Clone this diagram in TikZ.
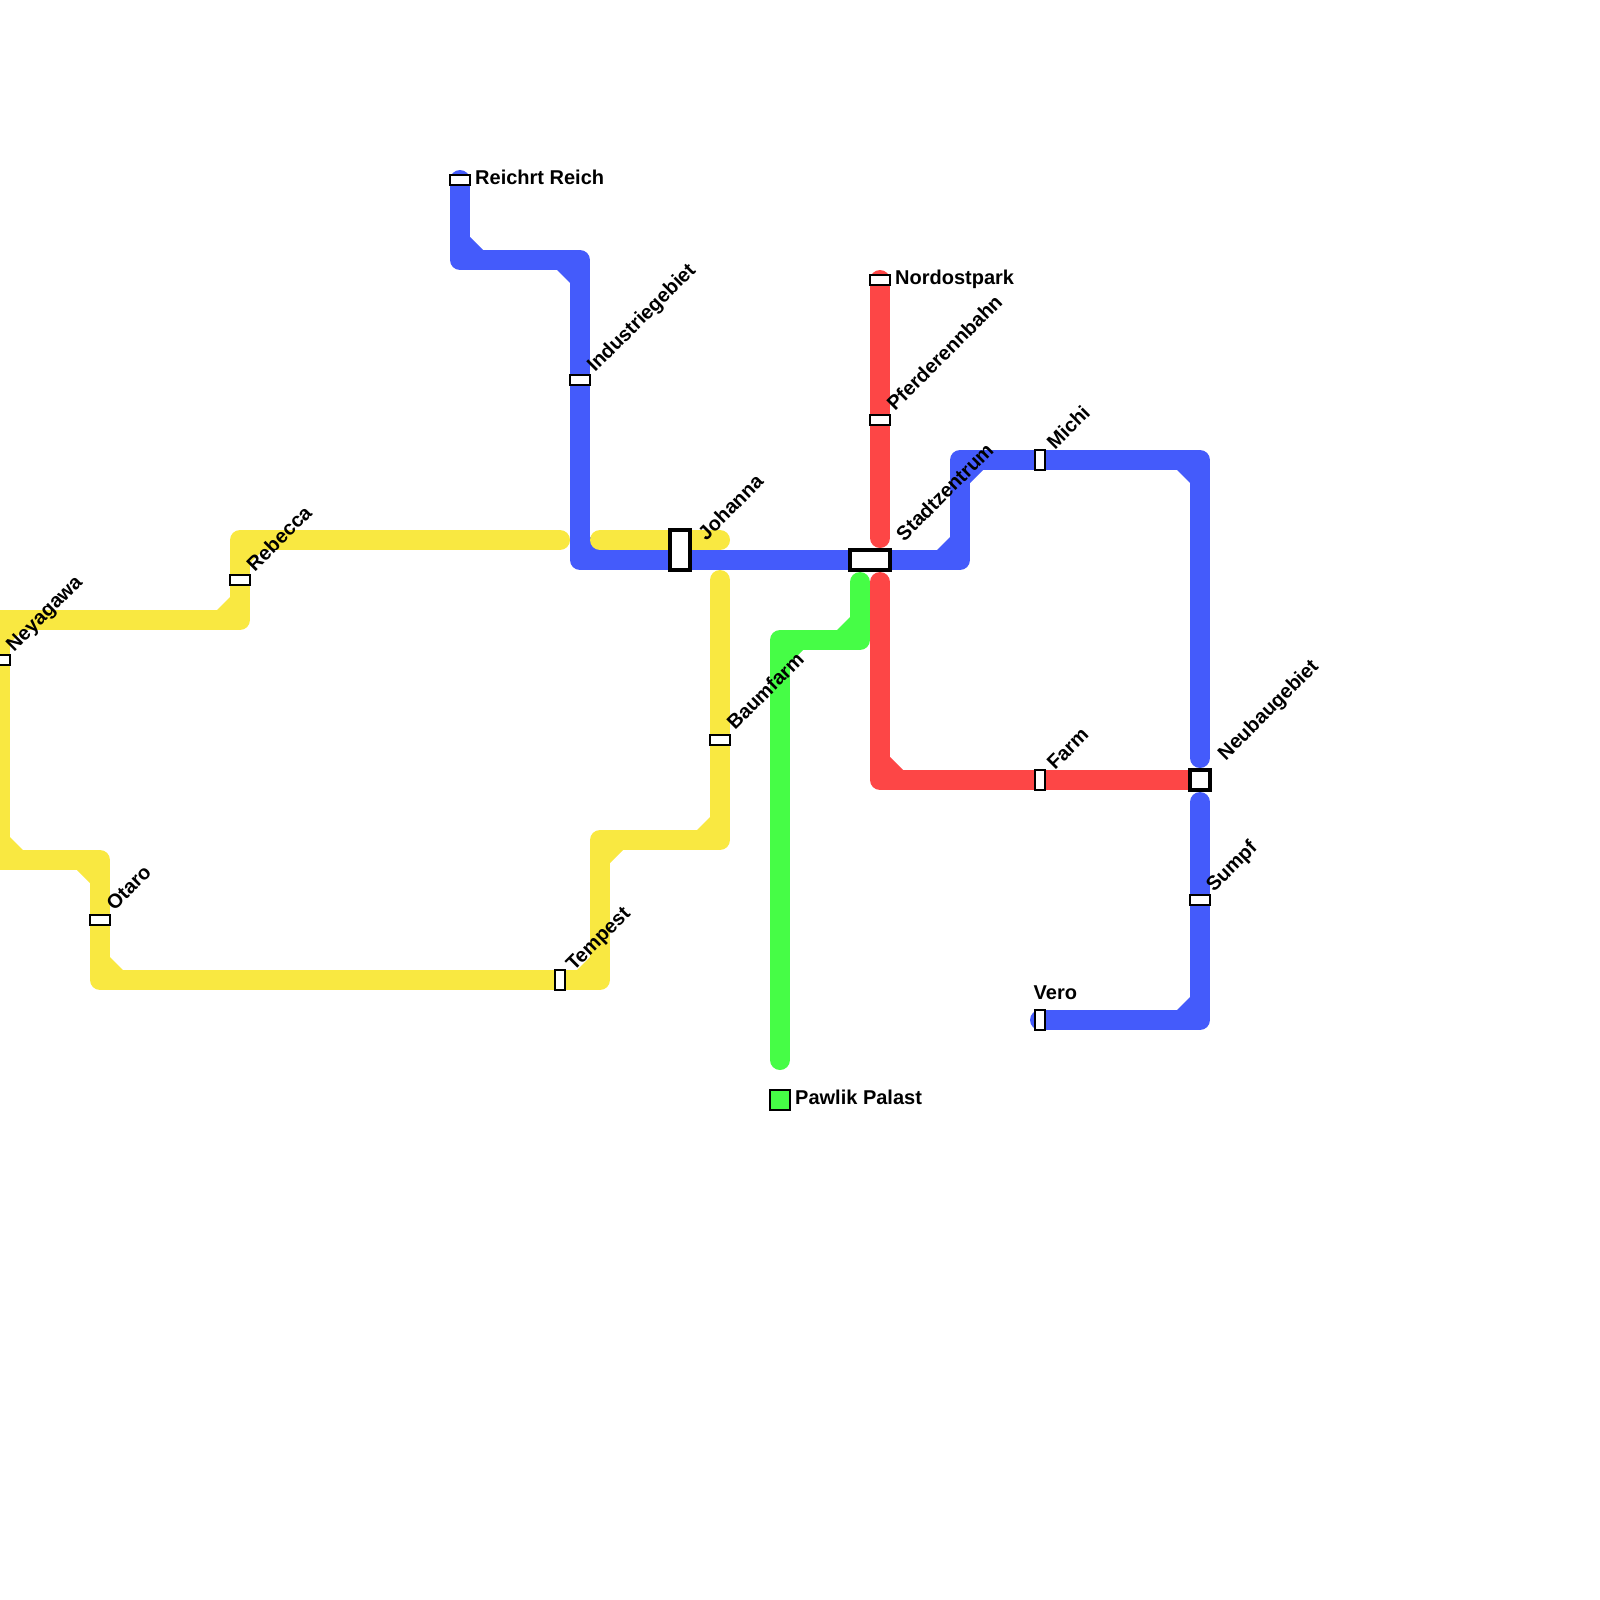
\documentclass[tikz,border=0pt]{standalone}
\usepackage{fontspec}
\setmainfont{Liberation Sans}
\usetikzlibrary{backgrounds}
\definecolor{lineblue}{HTML}{445BFB}
\definecolor{linered}{HTML}{FD4646}
\definecolor{linegreen}{HTML}{46FD46}
\definecolor{lineyellow}{HTML}{F9E841}
\begin{document}
\begin{tikzpicture}[x=1pt, y=-1pt,
    stop/.style={draw=black, fill=white, line width=2pt, inner sep=0pt, minimum width=20pt, minimum height=10pt},
    stopv/.style={stop, minimum width=10pt, minimum height=20pt},
    hub/.style={stop, line width=3.5pt, minimum width=#1, minimum height=20pt},
    hubv/.style={stop, line width=3.5pt, minimum width=20pt, minimum height=#1},
    caption/.style={font=\fontsize{20}{22}\selectfont\bfseries, inner sep=0pt, anchor=base west},
    tilted/.style={caption, rotate=45},
    route/.style={line width=20pt, line cap=round, line join=round}]
    \useasboundingbox (0, 0) rectangle (1600, 1600);

    % Stations
    \node[stop] (reichrt) at (460, 180) {};
    \node[stop] (industrie) at (580, 380) {};
    \node[hubv=40pt] (johanna) at (680, 550) {};
    \node[stop] (nordost) at (880, 280) {};
    \node[stop] (pferde) at (880, 420) {};
    \node[hub=40pt] (stadt) at (870, 560) {};
    \node[stopv] (michi) at (1040, 460) {};
    \node[stopv] (farm) at (1040, 780) {};
    \node[hub=20pt] (neubau) at (1200, 780) {};
    \node[stop] (sumpf) at (1200, 900) {};
    \node[stopv] (vero) at (1040, 1020) {};
    \node[stop] (baumfarm) at (720, 740) {};
    \node[stopv] (tempest) at (560, 980) {};
    \node[stop] (otaro) at (100, 920) {};
    \node[stop] (rebecca) at (240, 580) {};
    \node[stop] (neyagawa) at (0, 660) {};
    \node[stop, fill=linegreen, minimum width=20pt, minimum height=20pt] (pawlik) at (780, 1100) {};

    % Points
    \coordinate (B1) at (460, 260);
    \coordinate (B2) at (580, 260);
    \coordinate (B3) at (580, 560);
    \coordinate (B4) at (960, 560);
    \coordinate (B5) at (960, 460);
    \coordinate (B6) at (1200, 460);
    \coordinate (B7) at (1200, 758);
    \coordinate (B8) at (1200, 802);
    \coordinate (B9) at (1200, 1020);
    \coordinate (R1) at (880, 538);
    \coordinate (R2) at (880, 582);
    \coordinate (R3) at (880, 780);
    \coordinate (G1) at (860, 582);
    \coordinate (G2) at (860, 640);
    \coordinate (G3) at (780, 640);
    \coordinate (G4) at (780, 1060);
    \coordinate (Y1) at (560, 540);
    \coordinate (Y2) at (240, 540);
    \coordinate (Y3) at (240, 620);
    \coordinate (Y4) at (0, 620);
    \coordinate (Y5) at (0, 860);
    \coordinate (Y6) at (100, 860);
    \coordinate (Y7) at (100, 980);
    \coordinate (Y8) at (600, 980);
    \coordinate (Y9) at (600, 840);
    \coordinate (Y10) at (720, 840);
    \coordinate (Y11) at (720, 580);
    \coordinate (Y12) at (600, 540);
    \coordinate (Y13) at (720, 540);

    % Lines
    \begin{scope}[on background layer]
        \draw[route, lineblue] (reichrt.center) -- (B1) -- (B2) -- (B3) -- (B4) -- (B5) -- (B6) -- (B7);
        \draw[route, lineblue] (B8) -- (B9) -- (vero.center);
        \draw[route, lineyellow] (Y1) -- (Y2) -- (Y3) -- (Y4) -- (Y5) -- (Y6) -- (Y7) -- (Y8) -- (Y9) -- (Y10) -- (Y11);
        \draw[route, linered] (nordost.center) -- (R1);
        \draw[route, linered] (R2) -- (R3) -- (neubau.center);
        \draw[route, linegreen] (G1) -- (G2) -- (G3) -- (G4);
        % Inner corners
        \foreach \c/\dx/\dy/\col in {B1/1/-1/lineblue, B2/-1/1/lineblue, B3/1/-1/lineblue, B4/-1/-1/lineblue, B5/1/1/lineblue, B6/-1/1/lineblue, B9/-1/-1/lineblue,
            R3/1/-1/linered, G2/-1/-1/linegreen, G3/1/1/linegreen,
            Y2/1/1/lineyellow, Y3/-1/-1/lineyellow, Y4/1/1/lineyellow, Y5/1/-1/lineyellow, Y6/-1/1/lineyellow, Y7/1/-1/lineyellow, Y8/-1/-1/lineyellow, Y9/1/1/lineyellow, Y10/-1/-1/lineyellow}
            \fill[\col] (\c) -- ++(10*\dx, 23*\dy) -- ++(13*\dx, -13*\dy) -- cycle;
        \draw[route, lineyellow] (Y12) -- (Y13);
    \end{scope}

    % Labels
    \node[caption] (reichrtlabel) at (475, 184.5) {Reichrt Reich};
    \node[caption] (nordostlabel) at (895, 284.5) {Nordostpark};
    \node[caption] (pawliklabel) at (795, 1104.5) {Pawlik Palast};
    \node[caption] (verolabel) at (1033.5, 999.5) {Vero};
    \node[tilted] (industrielabel) at ([shift={(4, -1)}]industrie.north east) {Industriegebiet};
    \node[tilted] (johannalabel) at ([shift={(14.5, 13)}]johanna.north east) {Johanna};
    \node[tilted] (pferdelabel) at ([shift={(4, -2)}]pferde.north east) {Pferderennbahn};
    \node[tilted] (stadtlabel) at ([shift={(12.5, -6)}]stadt.north east) {Stadtzentrum};
    \node[tilted] (michilabel) at ([shift={(9, 1.5)}]michi.north east) {Michi};
    \node[tilted] (farmlabel) at ([shift={(9, 2)}]farm.north east) {Farm};
    \node[tilted] (neubaulabel) at ([shift={(14, -7)}]neubau.north east) {Neubaugebiet};
    \node[tilted] (sumpflabel) at ([shift={(3, -1)}]sumpf.north east) {Sumpf};
    \node[tilted] (baumfarmlabel) at ([shift={(4, -3)}]baumfarm.north east) {Baumfarm};
    \node[tilted] (tempestlabel) at ([shift={(8, 3)}]tempest.north east) {Tempest};
    \node[tilted] (otarolabel) at ([shift={(3.5, -2.5)}]otaro.north east) {Otaro};
    \node[tilted] (rebeccalabel) at ([shift={(3.7, -1.5)}]rebecca.north east) {Rebecca};
    \node[tilted] (neyagawalabel) at ([shift={(3, -1.5)}]neyagawa.north east) {Neyagawa};
\end{tikzpicture}
\end{document}
